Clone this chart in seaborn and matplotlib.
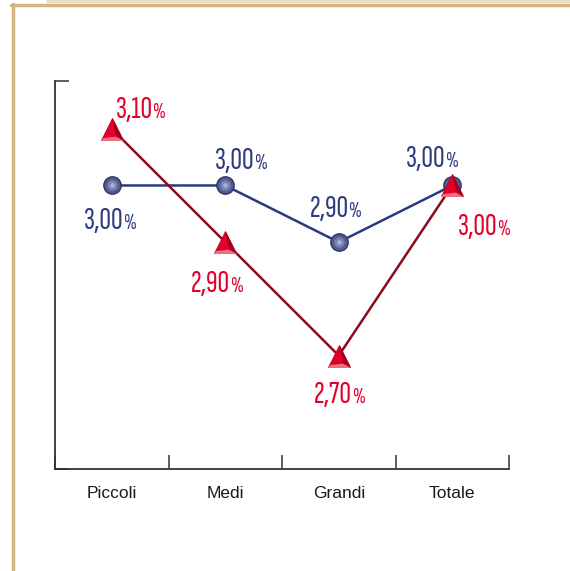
import matplotlib
matplotlib.use("Agg")
import matplotlib.pyplot as plt
from matplotlib.lines import Line2D
from matplotlib import font_manager
from matplotlib.font_manager import FontProperties
from matplotlib.textpath import TextPath
import seaborn as sns
import pandas as pd

# Data
categories = ["Piccoli", "Medi", "Grandi", "Totale"]
serie_blu = [3.00, 3.00, 2.90, 3.00]
serie_rossa = [3.10, 2.90, 2.70, 3.00]

# label offsets in pixels (x right, y up) from each point to the label centre
off_blu = [(-2, -33), (16, 27), (-3, 36), (-20, 29)]
off_rossa = [(29, 22), (-8, -39), (1, -37), (32, -39)]

BLU = "#2b3a80"
BLU_TXT = "#2e3b7e"
ROSSO = "#e2002b"
ROSSO_LINEA = "#8a0a1e"
TAN = "#d4b483"
ASSE = "#333333"

DIGIT_PX = 21.5      # digit height of the value labels, in pixels
WANTED_RATIO = 1.55  # width of "3,00" over digit height

sns.set_style("white")
plt.rcParams["font.family"] = ["Liberation Sans", "DejaVu Sans"]

fig = plt.figure(figsize=(5.70, 5.71), dpi=100)
renderer = fig.canvas.get_renderer()


def glyph_box(fp, s):
    return TextPath((0, 0), s, size=10, prop=fp).get_extents()


def narrow_face():
    """Condensed regular sans face whose proportions suit the value labels."""
    best, best_d = None, None
    for f in font_manager.fontManager.ttflist:
        key = (f.name + " " + f.fname).lower()
        if "sans" not in key or any(k in key for k in ("serif", "mono", "cjk", "italic")):
            continue
        if f.style != "normal" or f.weight not in (400, 500, "normal", "regular", "medium"):
            continue
        if not any(k in key for k in ("condensed", "narrow")):
            continue
        try:
            fp = FontProperties(fname=f.fname)
            h = glyph_box(fp, "3").height
            w = glyph_box(fp, "3,00").width
        except Exception:
            continue
        if h <= 0:
            continue
        d = abs(w / h - WANTED_RATIO)
        if best_d is None or d < best_d:
            best, best_d = f.fname, d
    return best


_face = narrow_face()
_fp0 = FontProperties(fname=_face) if _face else FontProperties(family="Roboto")
_h10 = glyph_box(_fp0, "3").height            # digit height at 10 pt, in points
FS_NUM = 10 * (DIGIT_PX * 72 / fig.dpi) / _h10
FS_PCT = FS_NUM * 0.68


def label_font(size):
    fp = _fp0.copy()
    fp.set_size(size)
    return fp


df = pd.DataFrame({"cat": categories, "x": range(len(categories)),
                   "blu": serie_blu, "rossa": serie_rossa})

ax = fig.add_axes([55 / 570, 1 - 469 / 571, 454 / 570, 389 / 571])

sns.lineplot(data=df, x="x", y="blu", ax=ax, color=BLU, lw=1.8, zorder=2)
sns.lineplot(data=df, x="x", y="rossa", ax=ax, color=ROSSO_LINEA, lw=1.8, zorder=4)

# shaded spheres for the blue series
for size, col in [(13.5, "#2f3466"), (11.5, "#555b8f"), (7.5, "#7a80b0"), (3.5, "#a9add3")]:
    ax.plot(df["x"], df["blu"], ls="none", marker="o", ms=size, mfc=col, mec="none", zorder=3)

# pyramids for the red series: body, shaded right face, light lower edge
ax.plot(df["x"], df["rossa"], ls="none", marker="^", ms=16.5, mfc=ROSSO, mec="#c0001f",
        mew=0.6, zorder=5)
faccia = [(0, 1), (1, -1), (0.3, -0.62), (0, 1)]
ax.plot(df["x"], df["rossa"], ls="none", marker=faccia, ms=16.5, mfc="#a3001b",
        mec="none", zorder=6)
bordo = [(-1, -1), (1, -1), (0.3, -0.62), (-0.8, -0.75), (-1, -1)]
ax.plot(df["x"], df["rossa"], ls="none", marker=bordo, ms=16.5, mfc="#ee6f82",
        mec="none", zorder=6)

etichette = []


def label(xv, yv, off, color):
    txt = f"{yv:.2f}".replace(".", ",")
    kw = dict(textcoords="offset pixels", va="baseline", color=color, zorder=7)
    num = ax.annotate(txt, (xv, yv), xytext=(0, 0), ha="right",
                      fontproperties=label_font(FS_NUM), **kw)
    pct = ax.annotate("%", (xv, yv), xytext=(0, 0), ha="left",
                      fontproperties=label_font(FS_PCT), **kw)
    etichette.append((num, pct, off))


for i in range(len(categories)):
    label(i, serie_blu[i], off_blu[i], BLU_TXT)
    label(i, serie_rossa[i], off_rossa[i], ROSSO)

ax.set_xlim(-0.5, len(categories) - 0.5)
ax.set_ylim(2.5, 3.186)
ax.set_xticks([i - 0.5 for i in range(len(categories) + 1)])
ax.set_xticklabels([])
ax.set_xticks(range(len(categories)), minor=True)
ax.set_xticklabels(categories, minor=True, fontsize=12.5, color="#1a1a1a")
ax.tick_params(axis="x", which="major", bottom=True, direction="in", length=10, width=1.1,
               color=ASSE)
ax.tick_params(axis="x", which="minor", bottom=True, length=0, pad=12)
ax.set_yticks([2.5, 3.185])
ax.set_yticklabels([])
ax.tick_params(axis="y", left=True, direction="in", length=10, width=1.1, color=ASSE)
ax.set_xlabel("")
ax.set_ylabel("")
for s in ["top", "right"]:
    ax.spines[s].set_visible(False)
for s in ["left", "bottom"]:
    ax.spines[s].set_color(ASSE)
    ax.spines[s].set_linewidth(1.3)
ax.spines["left"].set_bounds(2.5, 3.185)

# centre each "number + %" pair on its offset point
for num, pct, off in etichette:
    wn = num.get_window_extent(renderer).width
    wp = pct.get_window_extent(renderer).width
    jx = off[0] - (wn + wp) / 2 + wn
    jy = off[1] - DIGIT_PX / 2
    num.set_position((jx, jy))
    pct.set_position((jx + 0.5, jy))

# page frame
fig.add_artist(Line2D([12.5 / 570, 12.5 / 570], [0, 1 - 4 / 571], color=TAN, lw=2.5,
                      transform=fig.transFigure))
fig.add_artist(Line2D([11 / 570, 1], [1 - 5 / 571, 1 - 5 / 571], color=TAN, lw=2.5,
                      transform=fig.transFigure))
fig.add_artist(Line2D([47 / 570, 1], [1 - 1 / 571, 1 - 1 / 571], color="#eadcc0", lw=2,
                      transform=fig.transFigure))

fig.savefig("out.png", dpi=100)
